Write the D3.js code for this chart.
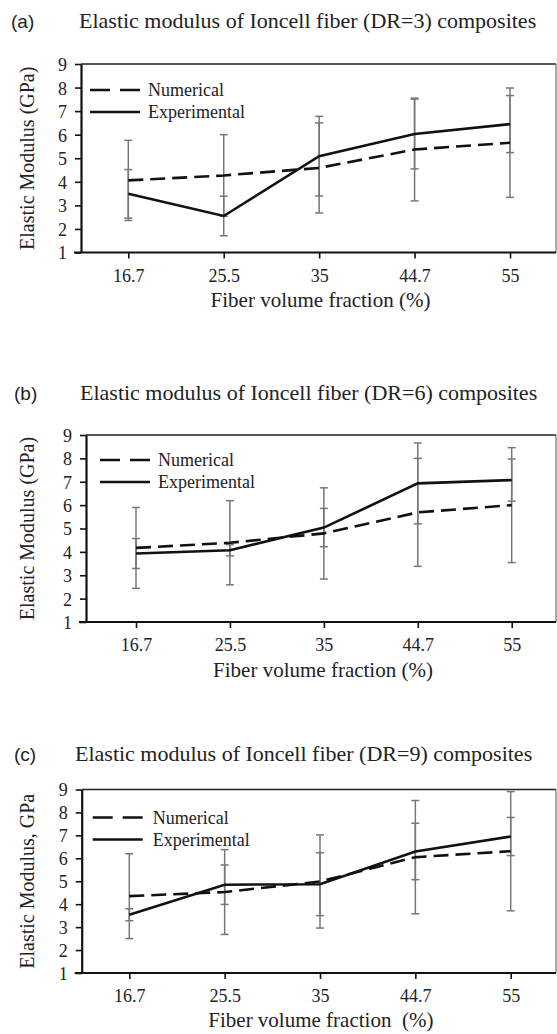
<!DOCTYPE html>
<html>
<head>
<meta charset="utf-8">
<script src="https://cdn.jsdelivr.net/npm/d3@7"></script>
<style>
    body { margin: 0; background: white; }
    svg { display: block; }
    .serif { font-family: "Liberation Serif", "Times New Roman", serif; fill: #222; }
</style>
</head>
<body>
<svg class="svgMain" width="557" height="1034"></svg>
<script>
// Three stacked line charts: numerical vs experimental elastic modulus.

W = 557;
H = 1034;

// Data
var categories = ["16.7", "25.5", "35", "44.7", "55"];
var yTicks = [1, 2, 3, 4, 5, 6, 7, 8, 9];
var seriesNames = ["Numerical", "Experimental"];
var panelLetters = ["(a)", "(b)", "(c)"];
var panelTitles = [
    "Elastic modulus of Ioncell fiber (DR=3) composites",
    "Elastic modulus of Ioncell fiber (DR=6) composites",
    "Elastic modulus of Ioncell fiber (DR=9) composites"
];
var yLabels = ["Elastic Modulus (GPa)", "Elastic Modulus (GPa)", "Elastic Modulus, GPa"];
var xLabels = ["Fiber volume fraction (%)", "Fiber volume fraction (%)", "Fiber volume fraction  (%)"];

var numericalA = [4.06, 4.27, 4.59, 5.37, 5.66];
var experimentalA = [3.49, 2.55, 5.09, 6.03, 6.45];
var numericalErrA = [1.70, 1.73, 1.91, 2.18, 2.32];
var experimentalErrA = [1.03, 0.84, 1.69, 1.48, 1.21];

var numericalB = [4.17, 4.39, 4.79, 5.69, 6.00];
var experimentalB = [3.93, 4.07, 5.04, 6.93, 7.07];
var numericalErrB = [1.73, 1.80, 1.95, 2.31, 2.46];
var experimentalErrB = [0.64, 0.24, 0.82, 1.73, 0.90];

var numericalC = [4.35, 4.53, 4.99, 6.05, 6.31];
var experimentalC = [3.54, 4.85, 4.87, 6.30, 6.95];
var numericalErrC = [1.85, 1.85, 2.03, 2.47, 2.60];
var experimentalErrC = [0.26, 0.86, 1.37, 1.23, 0.83];

var numericalAll = [numericalA, numericalB, numericalC];
var experimentalAll = [experimentalA, experimentalB, experimentalC];
var numericalErrAll = [numericalErrA, numericalErrB, numericalErrC];
var experimentalErrAll = [experimentalErrA, experimentalErrB, experimentalErrC];

// Layout of each panel (pixels)
var layouts = [
    { titleY: 28, titleX: 79, letterX: 11, left: 81, right: 556, top: 64, bottom: 252.5, x0: 128.3, x4: 510, tickY: 282, labelY: 307, legendX: 9, legendY: 26, legendTextX: 67 },
    { titleY: 400, titleX: 80, letterX: 14, left: 86, right: 556, top: 435, bottom: 622, x0: 136, x4: 511.7, tickY: 651, labelY: 677, legendX: 14, legendY: 25, legendTextX: 72 },
    { titleY: 761, titleX: 75, letterX: 14, left: 81.7, right: 556, top: 789.5, bottom: 973, x0: 129.3, x4: 510.7, tickY: 1002, labelY: 1027, legendX: 11, legendY: 28, legendTextX: 71 }
];

var svgMain;

function setupSVG () {
    svgMain = d3.select(".svgMain");
    svgMain.append("rect").attr("width", W).attr("height", H).attr("fill", "white");
}

function drawPanel (i) {
    var L = layouts[i];
    var g = svgMain.append("g");

    var x = d3.scalePoint().domain(categories).range([L.x0, L.x4]);
    var y = d3.scaleLinear().domain([1, 9]).range([L.bottom, L.top]);

    // Titles
    g.append("text")
        .attr("x", L.letterX).attr("y", L.titleY)
        .style("font-family", "'Liberation Sans', Arial, sans-serif")
        .style("font-size", "19px").style("fill", "#222")
        .text(panelLetters[i]);
    g.append("text").attr("class", "serif")
        .attr("x", L.titleX).attr("y", L.titleY)
        .style("font-size", "22px")
        .text(panelTitles[i]);

    // Frame
    g.append("line")
        .attr("x1", L.left).attr("x2", L.right).attr("y1", L.top).attr("y2", L.top)
        .attr("stroke", "#222").attr("stroke-width", 1.6);
    g.append("line")
        .attr("x1", L.right).attr("x2", L.right).attr("y1", L.top).attr("y2", L.bottom)
        .attr("stroke", "#555").attr("stroke-width", 1);

    // Axes
    var yAxis = g.append("g")
        .attr("transform", "translate(" + L.left + ",0)")
        .call(d3.axisLeft(y).tickValues(yTicks).tickSize(6).tickPadding(8).tickSizeOuter(0));
    var xAxis = g.append("g")
        .attr("transform", "translate(0," + L.bottom + ")")
        .call(d3.axisBottom(x).tickSize(6).tickPadding(13).tickSizeOuter(0));
    xAxis.select(".domain").attr("d", "M" + (L.left - 7) + ",0H" + L.right);
    [yAxis, xAxis].forEach(function (a) {
        a.attr("font-family", null).attr("font-size", null);
        a.select(".domain").attr("stroke", "#111").attr("stroke-width", 2.2);
        a.selectAll(".tick line").attr("stroke", "#111").attr("stroke-width", 1.6);
        a.selectAll(".tick text")
            .style("font-family", "'Liberation Serif', 'Times New Roman', serif")
            .style("font-size", "18px").style("fill", "#222");
    });
    yAxis.selectAll(".tick text").attr("dy", "0.36em");
    xAxis.selectAll(".tick text").attr("y", L.tickY - L.bottom).attr("dy", 0);

    // Axis titles
    g.append("text").attr("class", "serif")
        .attr("transform", "translate(34," + ((L.top + L.bottom) / 2) + ") rotate(-90)")
        .attr("text-anchor", "middle")
        .style("font-size", "20px")
        .text(yLabels[i]);
    g.append("text").attr("class", "serif")
        .attr("x", (L.left + L.right) / 2 + 2).attr("y", L.labelY)
        .attr("text-anchor", "middle")
        .style("font-size", "21px").style("white-space", "pre")
        .text(xLabels[i]);

    // Error bars (grey), one set per series
    var errSets = [
        { vals: numericalAll[i], errs: numericalErrAll[i] },
        { vals: experimentalAll[i], errs: experimentalErrAll[i] }
    ];
    errSets.forEach(function (s) {
        categories.forEach(function (c, k) {
            var cx = x(c);
            var hi = y(s.vals[k] + s.errs[k]);
            var lo = y(s.vals[k] - s.errs[k]);
            g.append("line").attr("x1", cx).attr("x2", cx).attr("y1", hi).attr("y2", lo)
                .attr("stroke", "#777").attr("stroke-width", 1.5);
            [hi, lo].forEach(function (yy) {
                g.append("line").attr("x1", cx - 4).attr("x2", cx + 4).attr("y1", yy).attr("y2", yy)
                    .attr("stroke", "#777").attr("stroke-width", 1.5);
            });
        });
    });

    // Series lines
    var line = d3.line()
        .x(function (d, k) { return x(categories[k]); })
        .y(function (d) { return y(d); });
    g.append("path").datum(numericalAll[i])
        .attr("d", line).attr("fill", "none")
        .attr("stroke", "#111").attr("stroke-width", 2.6)
        .attr("stroke-dasharray", "15,7");
    g.append("path").datum(experimentalAll[i])
        .attr("d", line).attr("fill", "none")
        .attr("stroke", "#111").attr("stroke-width", 2.6);

    // Legend
    seriesNames.forEach(function (name, k) {
        var ly = L.top + L.legendY + k * 22;
        g.append("line")
            .attr("x1", L.left + L.legendX).attr("x2", L.left + L.legendX + 50)
            .attr("y1", ly).attr("y2", ly)
            .attr("stroke", "#111").attr("stroke-width", 2.6)
            .attr("stroke-dasharray", k == 0 ? "20,10" : null);
        g.append("text").attr("class", "serif")
            .attr("x", L.left + L.legendTextX).attr("y", ly + 6)
            .style("font-size", "18px")
            .text(name);
    });
}

setupSVG();
for (var i = 0; i < 3; i++) {
    drawPanel(i);
}
</script>
</body>
</html>
